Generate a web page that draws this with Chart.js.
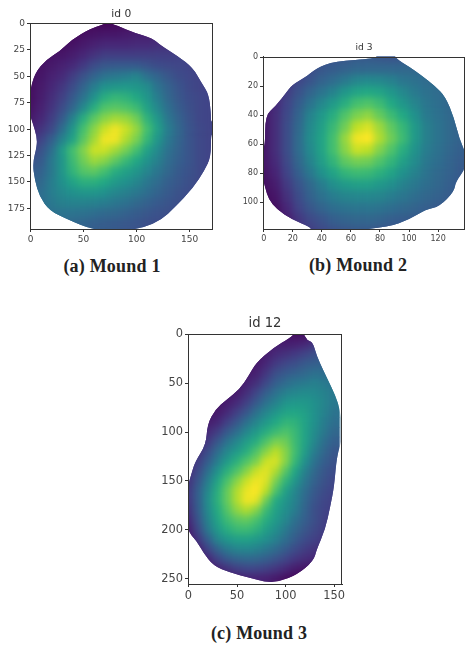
<!DOCTYPE html>
<html>
<head>
<meta charset="utf-8">
<style>
  html, body { margin: 0; padding: 0; background: #fff; overflow: hidden; }
  body { width: 465px; height: 648px; position: relative; }
  .box { position: absolute; }
  .cap { position: absolute; font: bold 18px "Liberation Serif", serif; letter-spacing: 0.2px; color: #222; white-space: nowrap; transform: translateX(-50%); }
</style>
<script src="https://cdn.jsdelivr.net/npm/chart.js@4"></script>
</head>
<body>
<div class="box" style="left:0;top:8px;width:225px;height:245px"><canvas id="c1"></canvas></div>
<div class="box" style="left:235px;top:41px;width:230px;height:212px"><canvas id="c2"></canvas></div>
<div class="box" style="left:150px;top:316px;width:200px;height:292px"><canvas id="c3"></canvas></div>
<div class="cap" style="left:112px;top:256px">(a) Mound 1</div>
<div class="cap" style="left:358px;top:255px">(b) Mound 2</div>
<div class="cap" style="left:259px;top:623px">(c) Mound 3</div>
<script>
// viridis stops, 0 to 1
const viridis = ["#440154","#482475","#414487","#355f8d","#2a788e","#21918c","#22a884","#44bf70","#7ad151","#bddf26","#fde725"];

// mound 1 (id 0)
const xCells1 = [0,10,20,30,40,50,60,70,80,90,100,110,120,130,140,150,160,170];
const yCells1 = [0,10,20,30,40,50,60,70,80,90,100,110,120,130,140,150,160,170,180,190];
const values1 = [
  [0,0,0,0,1,2,2,1,2,3,4,5,6,8,10,12,14,16],
  [0,0,0,1,2,4,5,6,6,7,8,8,9,10,12,14,16,18],
  [1,1,2,3,5,7,9,11,11,11,12,12,13,14,15,17,18,19],
  [2,3,5,6,8,11,15,18,18,18,18,18,18,18,19,19,20,20],
  [3,5,7,9,12,17,23,27,28,28,28,26,23,22,21,20,20,20],
  [4,6,9,12,18,25,32,38,40,42,45,37,32,27,23,21,20,20],
  [4,7,11,16,23,32,42,50,52,53,52,48,38,31,26,22,20,20],
  [4,8,13,19,28,38,50,62,66,64,60,52,42,33,27,23,21,20],
  [5,9,15,23,33,47,62,72,74,72,68,57,46,36,29,24,21,20],
  [7,11,18,28,44,62,74,82,86,84,78,64,52,39,31,25,21,20],
  [10,15,22,36,52,70,82,92,98,92,84,70,56,42,33,26,22,20],
  [15,20,30,44,58,74,86,98,98,88,80,66,52,40,32,26,22,20],
  [20,25,36,54,70,81,92,92,86,79,70,57,47,37,31,26,22,20],
  [25,28,40,52,68,78,85,82,75,67,60,51,43,35,30,26,22,20],
  [28,31,40,52,65,73,75,70,62,57,52,45,39,33,28,25,22,20],
  [30,34,42,50,58,63,63,60,54,50,46,40,35,30,27,24,22,20],
  [32,36,42,47,50,52,52,50,46,43,40,36,32,28,25,23,21,20],
  [33,36,40,43,44,44,43,42,39,37,34,31,28,26,24,22,21,20],
  [33,35,37,38,38,37,36,34,33,31,29,27,25,24,22,21,20,20],
  [32,33,34,34,33,32,30,29,28,27,26,24,23,22,21,20,20,20]
];
const outline1 = [[72.7,-1],[81.6,2],[97.5,8.6],[115,14],[123,21],[139,31],[153,42],[161,56],[168,67],[170,85],[170,93],[172,93],[173,100],[172,105],[170,105],[170,126],[164,139],[153,156],[136,174],[123,186],[107,193],[90,196],[60,196],[34,185],[18,177],[8.5,164],[4,148],[2,132],[6,116.5],[6,107],[2,94],[-1,85],[-1,66],[4,47],[15,34],[28,26],[39,15],[56,5],[67,1.5]];
const xTicks1 = [0,50,100,150];
const yTicks1 = [0,25,50,75,100,125,150,175];

// mound 2 (id 3)
const xCells2 = [0,8,16,24,32,40,48,56,64,72,80,88,96,104,112,120,128,136];
const yCells2 = [0,8,16,24,32,40,48,56,64,72,80,88,96,104,112,120];
const values2 = [
  [6,8,12,16,20,24,26,27,28,28,27,26,27,28,29,30,30,30],
  [6,9,13,18,23,27,29,31,33,33,33,33,33,33,33,33,32,31],
  [6,10,15,21,26,31,35,40,45,47,46,43,39,37,35,34,33,31],
  [6,11,18,25,32,38,44,52,58,60,58,52,46,41,37,35,33,31],
  [6,12,20,29,38,46,54,62,70,72,68,60,52,45,39,36,33,31],
  [6,13,22,32,44,53,62,72,80,83,76,68,60,50,41,37,34,31],
  [6,13,23,34,47,56,67,78,90,94,85,75,66,54,43,38,34,31],
  [6,13,23,35,48,58,70,84,98,100,88,78,68,54,43,38,34,31],
  [6,13,23,35,47,58,70,82,92,90,81,72,62,51,42,37,33,30],
  [6,12,22,33,44,55,65,75,79,78,72,65,56,48,40,36,32,29],
  [5,10,20,30,40,50,58,65,68,67,63,58,50,44,38,34,31,28],
  [4,8,17,26,34,42,49,54,56,56,53,49,44,40,36,33,30,28],
  [3,6,14,23,31,37,42,45,46,46,45,42,39,36,33,31,29,27],
  [2,4,11,20,27,32,36,38,39,39,38,36,34,32,30,28,27,26],
  [2,3,8,16,22,26,30,32,33,33,32,30,29,28,27,26,25,25],
  [2,3,6,13,18,22,25,27,28,28,27,26,25,25,24,24,24,24]
];
const outline2 = [[78,-2],[90,-2],[91,1],[100,6.4],[108,12],[118,20],[125,27],[131,42],[134.5,56],[139,66],[139,76.5],[132,86],[131,92.6],[121,103],[111.5,105],[100,112],[86,117],[57.5,120],[33,120],[32,117],[19.5,112],[9,105],[3.4,98],[1,90],[-2,78],[-2,63],[1,62],[1,40],[8,34],[15,25],[19.5,19],[30,13],[36,7.6],[49,2.5],[77,1]];
const xTicks2 = [0,20,40,60,80,100,120];
const yTicks2 = [0,20,40,60,80,100];

// mound 3 (id 12)
const xCells3 = [0,10,20,30,40,50,60,70,80,90,100,110,120,130,140,150];
const yCells3 = [0,10,20,30,40,50,60,70,80,90,100,110,120,130,140,150,160,170,180,190,200,210,220,230,240,250];
const values3 = [
  [2,2,2,3,3,4,4,4,5,5,5,4,4,8,14,20],
  [2,2,2,3,3,4,4,5,6,8,8,9,11,16,20,24],
  [2,2,3,3,4,4,5,6,8,12,14,17,20,24,26,28],
  [2,2,3,3,4,5,6,7,11,17,21,24,28,30,31,32],
  [2,3,3,4,4,6,7,9,16,24,28,31,34,37,36,35],
  [2,3,3,4,5,6,9,14,22,30,35,39,41,43,41,38],
  [2,3,4,5,6,8,13,21,30,37,43,46,48,47,44,40],
  [3,4,5,6,8,12,19,28,37,44,51,53,53,50,45,40],
  [3,4,6,7,12,19,27,37,45,52,58,59,56,50,44,38],
  [4,5,8,11,19,27,37,45,53,60,65,64,58,50,42,36],
  [5,7,12,18,28,36,46,54,62,68,72,67,58,48,40,33],
  [7,10,17,27,38,46,55,62,72,80,78,68,58,46,36,30],
  [9,14,23,35,46,54,62,72,82,90,82,69,55,42,33,27],
  [11,18,29,42,54,63,72,80,92,94,82,66,50,38,30,25],
  [13,22,36,50,63,72,82,92,96,88,74,59,44,34,27,23],
  [15,26,42,58,71,82,92,98,95,80,65,52,40,31,25,21],
  [16,30,46,62,76,88,97,100,90,72,57,46,36,28,23,20],
  [16,30,48,63,76,88,98,96,78,61,52,44,34,26,21,19],
  [14,29,47,61,73,83,88,82,68,57,49,42,32,24,20,18],
  [11,26,44,58,68,74,76,71,62,54,46,37,30,24,19,17],
  [8,22,40,53,62,67,68,64,56,49,41,33,27,22,18,16],
  [6,16,30,45,52,56,57,54,49,43,36,29,23,19,16,14],
  [4,9,20,32,41,45,46,44,40,35,29,23,18,15,13,12],
  [2,5,11,20,28,32,34,33,30,26,21,16,13,11,10,9],
  [1,2,5,10,15,19,21,21,19,16,12,8,6,5,5,5],
  [1,1,2,4,6,8,10,10,9,7,4,2,1,1,1,1]
];
const outline3 = [[110,-2],[118,-2],[122,6],[128,8],[132,22],[139,37.5],[147.5,54.6],[154,70],[157,84],[159,104],[152.6,124.6],[150,155],[146,176],[140.6,200],[132,220],[128.6,232],[111.5,246],[94,252.5],[80.6,254],[63,249],[43,244],[25.7,237],[15.4,223.5],[8.6,211.6],[-2,200],[-2,160],[3.4,141.6],[7,130],[18,112.6],[19.5,92],[27.4,77],[39.4,66.5],[53,55.6],[61.7,42.7],[69.6,29],[87.4,13.6],[104.6,3.4]];
const xTicks3 = [0,50,100,150];
const yTicks3 = [0,50,100,150,200,250];

function colorOf(v) {
  let t = Math.min(v / 100, 1) * (viridis.length - 1);
  let i = Math.min(Math.floor(t), viridis.length - 2);
  let f = t - i;
  let a = viridis[i], b = viridis[i + 1];
  let c = [1, 3, 5].map(k => {
    let p = parseInt(a.substr(k, 2), 16), q = parseInt(b.substr(k, 2), 16);
    return Math.round(p + (q - p) * f);
  });
  return `rgb(${c[0]},${c[1]},${c[2]})`;
}

function copyOf(canvas) {
  let off = document.createElement("canvas");
  off.width = canvas.width;
  off.height = canvas.height;
  off.getContext("2d").drawImage(canvas, 0, 0);
  return off;
}

function drawMound(id, cfg) {
  let points = [];
  let colors = [];
  cfg.yCells.forEach((y, r) => {
    cfg.xCells.forEach((x, c) => {
      points.push({ x: x, y: y });
      colors.push(colorOf(cfg.values[r][c]));
    });
  });

  let axesLayer = null;

  // cells get drawn alone, then put back blurred inside the mound outline
  const moundPlugin = {
    id: "mound",
    beforeDatasetsDraw(chart) {
      axesLayer = copyOf(chart.canvas);
      chart.ctx.clearRect(0, 0, chart.canvas.width, chart.canvas.height);
    },
    afterDatasetsDraw(chart) {
      let ctx = chart.ctx;
      let a = chart.chartArea;
      let cells = copyOf(chart.canvas);
      ctx.clearRect(0, 0, chart.canvas.width, chart.canvas.height);
      ctx.drawImage(axesLayer, 0, 0);
      ctx.save();
      ctx.beginPath();
      ctx.rect(a.left, a.top, a.right - a.left, a.bottom - a.top);
      ctx.clip();
      // rounded path through the outline midpoints
      let pix = cfg.outline.map(p => [chart.scales.x.getPixelForValue(p[0]), chart.scales.y.getPixelForValue(p[1])]);
      let last = pix[pix.length - 1];
      ctx.beginPath();
      ctx.moveTo((last[0] + pix[0][0]) / 2, (last[1] + pix[0][1]) / 2);
      pix.forEach((p, i) => {
        let n = pix[(i + 1) % pix.length];
        ctx.quadraticCurveTo(p[0], p[1], (p[0] + n[0]) / 2, (p[1] + n[1]) / 2);
      });
      ctx.closePath();
      ctx.clip();
      ctx.drawImage(cells, 0, 0);
      ctx.filter = `blur(${cfg.blur}px)`;
      ctx.drawImage(cells, 0, 0);
      ctx.restore();
      ctx.save();
      ctx.strokeStyle = "#333";
      ctx.lineWidth = 1;
      ctx.strokeRect(Math.round(a.left) + 0.5, Math.round(a.top) + 0.5, Math.round(a.right - a.left) - 1, Math.round(a.bottom - a.top));
      ctx.restore();
    }
  };

  new Chart(document.getElementById(id), {
    type: "scatter",
    data: {
      datasets: [{
        data: points,
        backgroundColor: colors,
        borderWidth: 0,
        pointStyle: "rect",
        pointRadius: cfg.radius,
        clip: 14
      }]
    },
    options: {
      responsive: true,
      maintainAspectRatio: false,
      animation: false,
      events: [],
      layout: { autoPadding: false, padding: { right: cfg.padRight, bottom: 0, top: 0, left: 0 } },
      plugins: {
        legend: { display: false },
        tooltip: { enabled: false },
        title: {
          display: true,
          text: cfg.title,
          fullSize: false,
          color: "#333",
          font: { family: "DejaVu Sans", size: cfg.titleSize, weight: "normal", lineHeight: 1.2 },
          padding: { top: cfg.titleTop, bottom: cfg.titlePad }
        }
      },
      scales: {
        x: {
          type: "linear",
          min: -0.5,
          max: cfg.xMax,
          afterBuildTicks: s => { s.ticks = cfg.xTicks.map(v => ({ value: v })); },
          afterFit: s => { s.height = 24; },
          grid: { drawOnChartArea: false, tickLength: 3, color: "#333" },
          border: { color: "#333" },
          ticks: { autoSkip: false, maxRotation: 0, padding: 2, color: "#444", font: { family: "DejaVu Sans", size: cfg.tickSize } }
        },
        y: {
          type: "linear",
          reverse: true,
          min: -0.5,
          max: cfg.yMax,
          afterBuildTicks: s => { s.ticks = cfg.yTicks.map(v => ({ value: v })); },
          afterFit: s => { s.width = cfg.yWidth; },
          grid: { drawOnChartArea: false, tickLength: 3, color: "#333" },
          border: { color: "#333" },
          ticks: { autoSkip: false, padding: 2, color: "#444", font: { family: "DejaVu Sans", size: cfg.tickSize } }
        }
      }
    },
    plugins: [moundPlugin]
  });
}

drawMound("c1", { title: "id 0", xCells: xCells1, yCells: yCells1, values: values1, outline: outline1, xTicks: xTicks1, yTicks: yTicks1,
  xMax: 171.5, yMax: 194.5, yWidth: 30, padRight: 12.5, titleSize: 10.7, titleTop: 0, titlePad: 2.2, tickSize: 9, radius: 7.9, blur: 3.5 });
drawMound("c2", { title: "id 3", xCells: xCells2, yCells: yCells2, values: values2, outline: outline2, xTicks: xTicks2, yTicks: yTicks2,
  xMax: 138.5, yMax: 118.5, yWidth: 28, padRight: 0, titleSize: 9.1, titleTop: 1.5, titlePad: 3.2, tickSize: 8, radius: 8.6, blur: 3.5 });
drawMound("c3", { title: "id 12", xCells: xCells3, yCells: yCells3, values: values3, outline: outline3, xTicks: xTicks3, yTicks: yTicks3,
  xMax: 158, yMax: 255.5, yWidth: 38, padRight: 8, titleSize: 13.2, titleTop: 0, titlePad: 2.2, tickSize: 11.4, radius: 7.3, blur: 3.5 });
</script>
</body>
</html>
